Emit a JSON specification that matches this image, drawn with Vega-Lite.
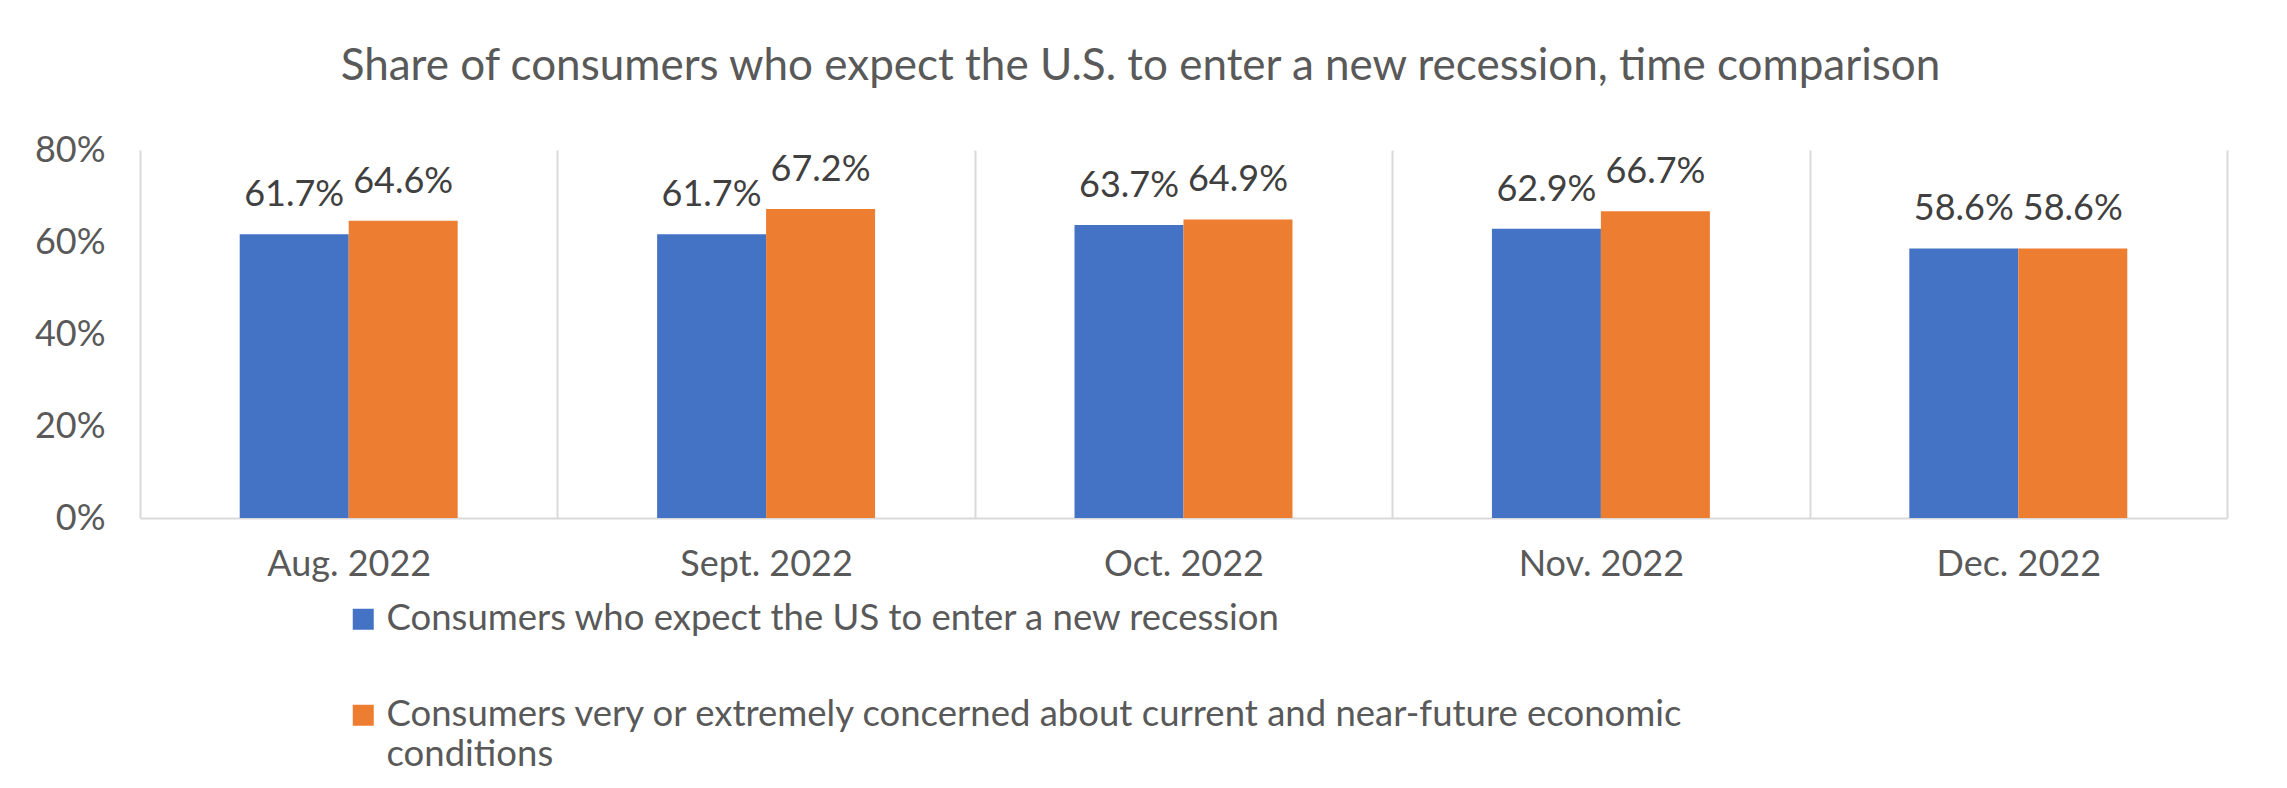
{
  "$schema": "https://vega.github.io/schema/vega-lite/v6.json",
  "width": 2087,
  "height": 368,
  "autosize": {"type": "none"},
  "padding": {"left": 140, "top": 150, "right": 60, "bottom": 270},
  "background": "white",
  "config": {"font": "Lato", "view": {"stroke": null}},
  "title": {
    "text": "Share of consumers who expect the U.S. to enter a new recession, time comparison",
    "font": "Lato",
    "fontSize": 44,
    "fontWeight": "normal",
    "color": "#595959",
    "anchor": "middle",
    "dx": -43,
    "baseline": "alphabetic",
    "offset": 8
  },
  "data": {
    "values": [
      {"month": "Aug. 2022", "series": "Consumers who expect the US to enter a new recession", "value": 0.617},
      {"month": "Aug. 2022", "series": "Consumers very or extremely concerned about current and near-future economic conditions", "value": 0.646},
      {"month": "Sept. 2022", "series": "Consumers who expect the US to enter a new recession", "value": 0.617},
      {"month": "Sept. 2022", "series": "Consumers very or extremely concerned about current and near-future economic conditions", "value": 0.672},
      {"month": "Oct. 2022", "series": "Consumers who expect the US to enter a new recession", "value": 0.637},
      {"month": "Oct. 2022", "series": "Consumers very or extremely concerned about current and near-future economic conditions", "value": 0.649},
      {"month": "Nov. 2022", "series": "Consumers who expect the US to enter a new recession", "value": 0.629},
      {"month": "Nov. 2022", "series": "Consumers very or extremely concerned about current and near-future economic conditions", "value": 0.667},
      {"month": "Dec. 2022", "series": "Consumers who expect the US to enter a new recession", "value": 0.586},
      {"month": "Dec. 2022", "series": "Consumers very or extremely concerned about current and near-future economic conditions", "value": 0.586}
    ]
  },
  "encoding": {
    "x": {
      "field": "month",
      "type": "nominal",
      "sort": ["Aug. 2022", "Sept. 2022", "Oct. 2022", "Nov. 2022", "Dec. 2022"],
      "scale": {"paddingInner": 0, "paddingOuter": 0},
      "axis": {
        "title": null,
        "labelAngle": 0,
        "labelFont": "Lato",
        "labelFontSize": 36,
        "labelColor": "#595959",
        "labelPadding": 29,
        "labelBaseline": "top",
        "ticks": false,
        "domain": true,
        "domainColor": "#d9d9d9",
        "domainWidth": 2,
        "grid": true,
        "gridColor": "#d9d9d9",
        "gridWidth": 2,
        "tickBand": "extent"
      }
    },
    "xOffset": {
      "field": "series",
      "type": "nominal",
      "sort": ["Consumers who expect the US to enter a new recession", "Consumers very or extremely concerned about current and near-future economic conditions"],
      "scale": {"paddingInner": 0, "paddingOuter": 0.915}
    },
    "y": {
      "field": "value",
      "type": "quantitative",
      "scale": {"domain": [0, 0.8]},
      "axis": {
        "title": null,
        "values": [0, 0.2, 0.4, 0.6, 0.8],
        "format": ".0%",
        "labelFont": "Lato",
        "labelFontSize": 36,
        "labelColor": "#595959",
        "labelPadding": 35,
        "ticks": false,
        "domain": false,
        "grid": false
      }
    }
  },
  "layer": [
    {
      "mark": {"type": "bar"},
      "encoding": {
        "color": {
          "field": "series",
          "type": "nominal",
          "scale": {
            "domain": ["Consumers who expect the US to enter a new recession", "Consumers very or extremely concerned about current and near-future economic conditions"],
            "range": ["#4472C4", "#ED7D31"]
          },
          "legend": {
            "title": null,
            "orient": "none",
            "legendX": 205,
            "legendY": 451,
            "direction": "vertical",
            "padding": 0,
            "symbolType": "square",
            "symbolSize": 441,
            "symbolStrokeWidth": 0,
            "symbolOpacity": 1,
            "labelFont": "Lato",
            "labelFontSize": 36.5,
            "labelColor": "#595959",
            "labelOffset": 5,
            "labelLimit": 3000,
            "labelBaseline": "alphabetic",
            "rowPadding": 59,
            "labelExpr": "indexof(datum.label, 'very') >= 0 ? ['Consumers very or extremely concerned about current and near-future economic', 'conditions'] : datum.label",
            "encode": {
              "labels": {"update": {"dy": {"value": 11}, "lineHeight": {"value": 40}}}
            }
          }
        }
      }
    },
    {
      "mark": {"type": "text", "dy": -28, "baseline": "alphabetic", "font": "Lato", "fontSize": 36, "color": "#404040"},
      "encoding": {
        "text": {"field": "value", "type": "quantitative", "format": ".1%"}
      }
    }
  ]
}
